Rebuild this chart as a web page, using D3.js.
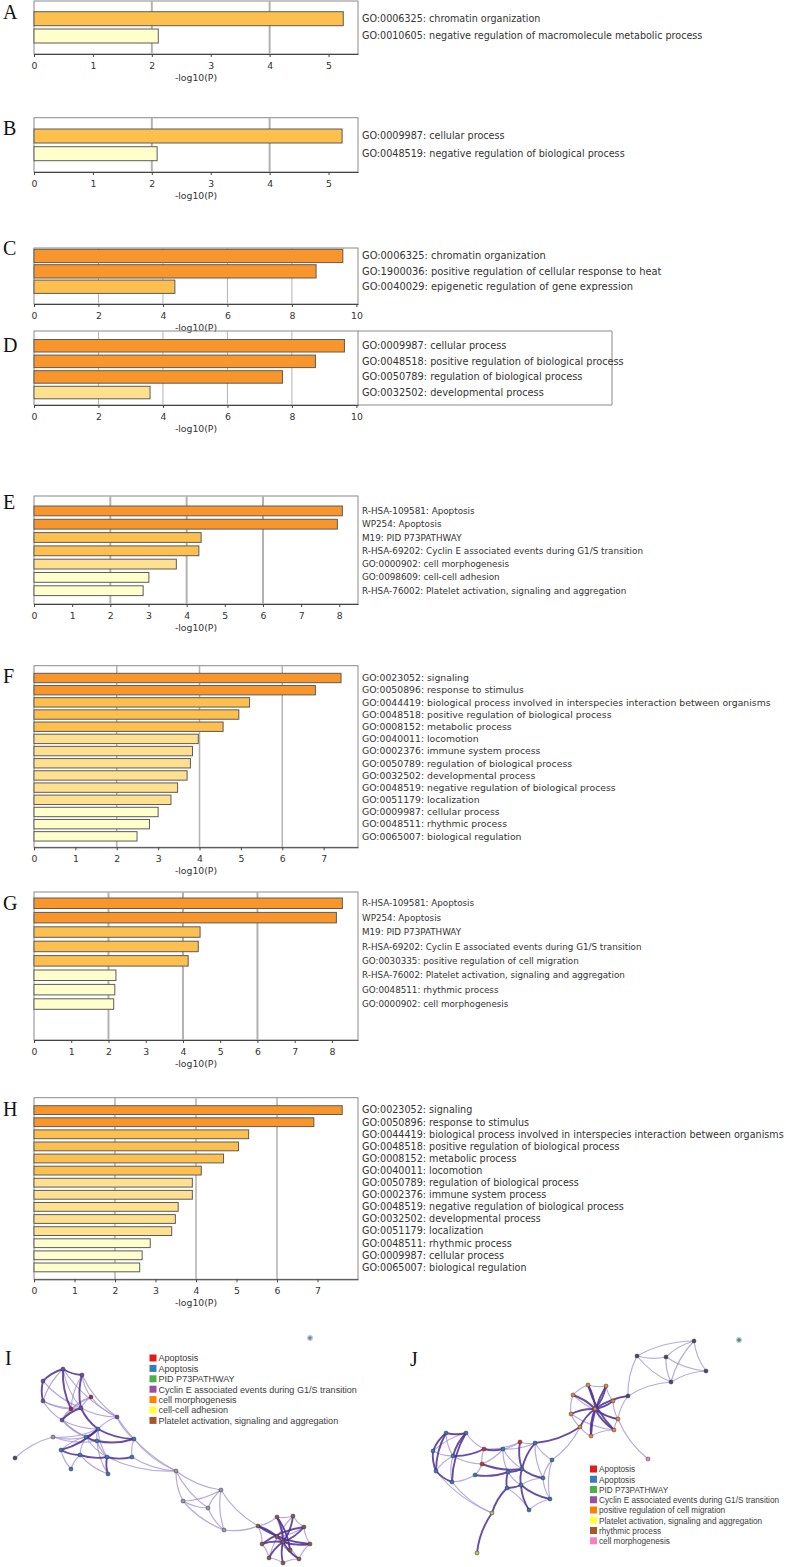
<!DOCTYPE html>
<html><head><meta charset="utf-8">
<script src="https://cdn.jsdelivr.net/npm/d3@7"></script>
<style>body{margin:0;background:#fff}svg{display:block}</style>
</head><body>
<svg id="fig" width="786" height="1567"></svg>
<script>
// ---------------- DATA ----------------
const termsA = ["GO:0006325: chromatin organization","GO:0010605: negative regulation of macromolecule metabolic process"];
const valuesA = [5.25, 2.11];
const levelsA = [1, 3];
const ticksA = [0,1,2,3,4,5];

const termsB = ["GO:0009987: cellular process","GO:0048519: negative regulation of biological process"];
const valuesB = [5.23, 2.09];
const levelsB = [1, 3];
const ticksB = [0,1,2,3,4,5];

const termsC = ["GO:0006325: chromatin organization","GO:1900036: positive regulation of cellular response to heat","GO:0040029: epigenetic regulation of gene expression"];
const valuesC = [9.58, 8.75, 4.37];
const levelsC = [0, 0, 1];
const ticksC = [0,2,4,6,8,10];

const termsD = ["GO:0009987: cellular process","GO:0048518: positive regulation of biological process","GO:0050789: regulation of biological process","GO:0032502: developmental process"];
const valuesD = [9.63, 8.73, 7.71, 3.6];
const levelsD = [0, 0, 0, 2];
const ticksD = [0,2,4,6,8,10];

const termsE = ["R-HSA-109581: Apoptosis","WP254: Apoptosis","M19: PID P73PATHWAY","R-HSA-69202: Cyclin E associated events during G1/S transition","GO:0000902: cell morphogenesis","GO:0098609: cell-cell adhesion","R-HSA-76002: Platelet activation, signaling and aggregation"];
const valuesE = [8.08, 7.95, 4.38, 4.32, 3.73, 3.01, 2.86];
const levelsE = [0,0,1,1,2,3,3];
const ticksE = [0,1,2,3,4,5,6,7,8];

const termsF = ["GO:0023052: signaling","GO:0050896: response to stimulus","GO:0044419: biological process involved in interspecies interaction between organisms","GO:0048518: positive regulation of biological process","GO:0008152: metabolic process","GO:0040011: locomotion","GO:0002376: immune system process","GO:0050789: regulation of biological process","GO:0032502: developmental process","GO:0048519: negative regulation of biological process","GO:0051179: localization","GO:0009987: cellular process","GO:0048511: rhythmic process","GO:0065007: biological regulation"];
const valuesF = [7.42, 6.80, 5.21, 4.95, 4.57, 3.97, 3.83, 3.78, 3.70, 3.47, 3.31, 3.00, 2.79, 2.49];
const levelsF = [0,0,1,1,1,2,2,2,2,2,2,3,3,3];
const ticksF = [0,1,2,3,4,5,6,7];

const termsG = ["R-HSA-109581: Apoptosis","WP254: Apoptosis","M19: PID P73PATHWAY","R-HSA-69202: Cyclin E associated events during G1/S transition","GO:0030335: positive regulation of cell migration","R-HSA-76002: Platelet activation, signaling and aggregation","GO:0048511: rhythmic process","GO:0000902: cell morphogenesis"];
const valuesG = [8.28, 8.12, 4.46, 4.41, 4.14, 2.20, 2.17, 2.14];
const levelsG = [0,0,1,1,1,3,3,3];
const ticksG = [0,1,2,3,4,5,6,7,8];

const termsH = ["GO:0023052: signaling","GO:0050896: response to stimulus","GO:0044419: biological process involved in interspecies interaction between organisms","GO:0048518: positive regulation of biological process","GO:0008152: metabolic process","GO:0040011: locomotion","GO:0050789: regulation of biological process","GO:0002376: immune system process","GO:0048519: negative regulation of biological process","GO:0032502: developmental process","GO:0051179: localization","GO:0048511: rhythmic process","GO:0009987: cellular process","GO:0065007: biological regulation"];
const valuesH = [7.61, 6.91, 5.30, 5.05, 4.68, 4.13, 3.91, 3.91, 3.56, 3.49, 3.40, 2.87, 2.67, 2.61];
const levelsH = [0,0,1,1,1,1,2,2,2,2,2,3,3,3];
const ticksH = [0,1,2,3,4,5,6,7];

// Network I: nodes [x, y, category] in panel-local units; edges [a, b, strong]
const legendI = ["Apoptosis","Apoptosis","PID P73PATHWAY","Cyclin E associated events during G1/S transition","cell morphogenesis","cell-cell adhesion","Platelet activation, signaling and aggregation"];
const legendIcats = ["red","blue","green","purple","orange","yellow","brown"];
const nodesI = [
 [63,39,"purple"],[82,45,"purple"],[43,51,"purple"],[43,71,"purple"],[91,67,"dred"],[71,79,"dred"],
 [81,78,"purple"],[117,87,"purple"],[62,90,"purple"],[53,107,"gray"],[86,107,"blue"],[98,99,"blue"],
 [97,111,"blue"],[134,109,"blue"],[61,120,"blue"],[80,125,"blue"],[107,127,"blue"],[132,127,"blue"],
 [15,128,"dark"],[71,139,"blue"],[108,144,"blue"],[176,141,"gray"],[183,171,"gray"],[221,160,"gray"],
 [208,178,"gray"],[224,200,"gray"],[258,196,"brown"],[277,187,"brown"],[293,186,"brown"],[304,197,"brown"],
 [310,214,"brown"],[299,229,"brown"],[283,233,"brown"],[269,228,"brown"],[262,214,"brown"],[283,212,"brown"],
 [277,207,"brown"],[290,220,"brown"],[310,8,"iso"]
];
const edgesI = [
 [0,1,1],[0,2,1],[0,3,0],[0,5,1],[0,6,0],[1,4,0],[1,6,1],[1,5,0],[2,3,1],[2,6,0],[3,8,0],[3,5,0],[3,6,0],
 [4,5,0],[4,6,0],[4,7,0],[4,8,0],[5,6,0],[5,8,0],[6,8,1],[6,7,0],[7,11,0],[7,13,0],[8,10,0],[8,11,0],
 [8,12,0],[6,11,1],[0,7,0],[1,7,0],
 [9,10,0],[9,11,0],[9,18,0],[10,11,1],[10,12,1],[10,14,0],[10,15,0],[11,12,0],[11,13,1],[11,16,0],[12,13,1],
 [12,16,0],[12,20,0],[13,17,0],[14,15,1],[14,19,0],[15,16,1],[15,19,0],[15,20,0],[16,17,1],[16,20,1],
 [10,16,0],[14,11,1],[9,12,0],
 [13,21,0],[17,21,0],[7,21,0],[16,21,0],
 [21,22,0],[21,23,0],[21,24,0],[22,23,0],[22,24,0],[23,24,0],[23,25,0],[24,25,0],[22,25,0],[25,26,0],[23,26,0],
 [35,27,1],[35,28,1],[35,29,1],[35,30,1],[35,31,1],[35,32,1],[35,33,1],[35,34,1],[35,26,1],
 [26,27,0],[27,28,0],[28,29,0],[29,30,0],[30,31,0],[31,32,0],[32,33,0],[33,34,0],[34,26,0],
 [27,31,0],[28,33,0],[26,30,1],[29,34,1],[36,31,0],[37,27,1],[36,29,0]
];

// Network J
const legendJ = ["Apoptosis","Apoptosis","PID P73PATHWAY","Cyclin E associated events during G1/S transition","positive regulation of cell migration","Platelet activation, signaling and aggregation","rhythmic process","cell morphogenesis"];
const legendJcats = ["red","blue","green","purple","orange","yellow","brown","pink"];
const nodesJ = [
 [294,11,"dark"],[237,26,"dark"],[266,27,"dark"],[306,41,"dark"],[271,52,"dark"],[228,66,"dark"],
 [188,55,"orange"],[206,56,"orange"],[173,65,"orange"],[213,71,"orange"],[195,79,"orange"],[171,84,"orange"],
 [218,89,"orange"],[180,97,"orange"],[214,100,"orange"],[191,106,"orange"],[248,129,"pink"],
 [46,103,"blue"],[66,103,"blue"],[33,121,"blue"],[53,126,"blue"],[36,141,"blue"],[52,152,"blue"],[75,145,"blue"],
 [84,119,"red"],[82,134,"red"],[103,119,"blue"],[120,112,"red"],[135,113,"blue"],[152,130,"blue"],
 [108,142,"blue"],[122,139,"blue"],[143,148,"blue"],[107,158,"blue"],[121,155,"blue"],[150,169,"blue"],
 [129,180,"blue"],[92,183,"ygreen"],[77,223,"ygreen"],[339,10,"isoG"]
];
const edgesJ = [
 [0,1,0],[0,2,0],[0,3,0],[0,4,0],[1,2,0],[1,4,0],[2,3,0],[2,4,0],[3,4,0],[1,5,0],[4,5,0],[5,9,0],[5,12,0],
 [10,6,1],[10,7,1],[10,8,1],[10,9,1],[10,11,1],[10,12,1],[10,13,1],[10,14,1],[10,15,1],
 [6,7,0],[6,8,0],[7,9,0],[8,11,0],[9,12,0],[11,13,0],[12,14,0],[13,15,0],[14,15,0],[5,10,1],[7,15,1],[6,14,1],
 [8,12,0],[11,14,0],[12,16,0],[28,13,1],[29,13,0],
 [17,18,1],[17,19,1],[17,20,0],[17,21,1],[18,20,1],[18,22,1],[19,20,0],[19,21,1],[20,21,0],[20,22,0],
 [21,22,1],[18,24,0],[20,24,1],[20,25,0],[22,23,0],[23,25,0],[24,25,0],[24,26,1],[24,27,0],[25,26,0],
 [23,30,1],[25,31,1],[18,19,0],
 [26,27,0],[26,28,0],[26,30,0],[26,31,0],[27,28,0],[27,31,1],[28,29,0],[28,31,1],[28,32,0],[29,32,0],
 [29,35,0],[30,31,1],[30,33,1],[30,34,0],[31,34,1],[31,32,1],[32,34,0],[33,34,1],[34,35,1],[34,36,1],
 [35,36,0],[32,35,0],[33,37,1],[37,38,1],[22,37,0],[21,37,0],[36,33,0]
];

// ---------------- STYLE ----------------
const barColors = ["#f8962c", "#fdbf4e", "#fee08f", "#ffffcc"];
const nodeColors = {red:"#e3262a", dred:"#a3263a", blue:"#3478bb", green:"#41a446", purple:"#6a4fa3",
  orange:"#f0862a", yellow:"#f2ef3a", brown:"#8c5a44", pink:"#ef83bd", gray:"#9a9aa4", dark:"#47476c",
  ygreen:"#b6c94a", iso:"#6a8aa8", isoG:"#3c9a5a"};
const legendColors = {red:"#e41a1c", blue:"#377eb8", green:"#4daf4a", purple:"#984ea3", orange:"#ff7f00",
  yellow:"#ffff33", brown:"#a65628", pink:"#f781bf"};

const svg = d3.select("#fig");
svg.append("rect").attr("width",786).attr("height",1567).attr("fill","#fff");

const panels = [
 {L:"A", ly:19, terms:termsA, values:valuesA, levels:levelsA, ticks:ticksA, xmax:5.5, top:1, base:54, barTop:11.7, step:17.3, barH:14, grid:[2,4], gw:2, fs:9.6},
 {L:"B", ly:135, terms:termsB, values:valuesB, levels:levelsB, ticks:ticksB, xmax:5.5, top:117.7, base:172, barTop:129, step:17.7, barH:14, grid:[2,4], gw:2, fs:9.65},
 {L:"C", ly:255, terms:termsC, values:valuesC, levels:levelsC, ticks:ticksC, xmax:10.05, top:248, base:304, barTop:249.3, step:15.4, barH:13.3, grid:[2,4,6,8], gw:1, fs:9.9},
 {L:"D", ly:352, terms:termsD, values:valuesD, levels:levelsD, ticks:ticksD, xmax:10.05, top:331, base:405, barTop:339.5, step:15.6, barH:12.5, grid:[2,4,6,8], gw:1, outer:612, fs:9.75},
 {L:"E", ly:509, terms:termsE, values:valuesE, levels:levelsE, ticks:ticksE, xmax:8.49, top:496, base:604, barTop:506, step:13.3, barH:9.8, grid:[2,4,6], gw:2, fs:8.8},
 {L:"F", ly:683, terms:termsF, values:valuesF, levels:levelsF, ticks:ticksF, xmax:7.83, top:665.7, base:847.3, barTop:673.3, step:12.18, barH:9.4, grid:[2,4,6], gw:1.5, fs:9.3},
 {L:"G", ly:910, terms:termsG, values:valuesG, levels:levelsG, ticks:ticksG, xmax:8.7, top:892, base:1040, barTop:898, step:14.4, barH:10.5, grid:[2,4,6], gw:2, fs:8.75},
 {L:"H", ly:1116, terms:termsH, values:valuesH, levels:levelsH, ticks:ticksH, xmax:8.0, top:1097.7, base:1279.3, barTop:1105.7, step:12.1, barH:8.8, grid:[2,4,6], gw:1.5, fs:9.6}
];

const X0 = 34, X1 = 358;
const sans = "'DejaVu Sans', sans-serif";

function drawBars(p) {
  const g = svg.append("g");
  const n = p.terms.length;
  const gap = p.step - p.barH;
  const x = d3.scaleLinear().domain([0, p.xmax]).range([X0, X1]);
  const y = d3.scaleBand().domain(d3.range(n))
    .range([p.barTop - gap/2, p.barTop - gap/2 + n*p.step])
    .paddingInner(gap/p.step).paddingOuter(gap/p.step/2);

  g.append("rect").attr("x", X0).attr("y", p.top).attr("width", X1 - X0).attr("height", p.base - p.top)
    .attr("fill", "none").attr("stroke", "#8a8a8a").attr("stroke-width", 1);
  if (p.outer) {
    g.append("path").attr("d", `M${X1},${p.top}H${p.outer}V${p.base}H${X1}`)
      .attr("fill","none").attr("stroke","#8a8a8a").attr("stroke-width",1);
  }
  g.selectAll("line.grid").data(p.grid).join("line").attr("class","grid")
    .attr("x1", d => x(d)).attr("x2", d => x(d)).attr("y1", p.top).attr("y2", p.base)
    .attr("stroke", "#b2b2b2").attr("stroke-width", p.gw);
  g.selectAll("rect.bar").data(p.values).join("rect").attr("class","bar")
    .attr("x", x(0)).attr("y", (d,i) => y(i)).attr("width", d => x(d) - x(0)).attr("height", y.bandwidth())
    .attr("fill", (d,i) => barColors[p.levels[i]]).attr("stroke", "#5c5c5c").attr("stroke-width", 1);
  const ax = g.append("g").attr("transform", `translate(0,${p.base})`)
    .call(d3.axisBottom(x).tickValues(p.ticks).tickSize(3).tickSizeOuter(0).tickFormat(d3.format("d")));
  ax.select(".domain").attr("stroke", "#444");
  ax.selectAll(".tick line").attr("stroke", "#444");
  ax.selectAll(".tick text").attr("fill", "#333").attr("font-family", sans).attr("font-size", 9.3).attr("dy", "0.95em");
  g.append("text").attr("x", (X0 + X1)/2).attr("y", p.base + 27).attr("text-anchor","middle")
    .attr("font-family", sans).attr("font-size", 9.3).attr("fill", "#333").text("-log10(P)");
  g.selectAll("text.term").data(p.terms).join("text").attr("class","term")
    .attr("x", X1 + 4).attr("y", (d,i) => y(i) + y.bandwidth()/2).attr("dy","0.35em")
    .attr("font-family", sans).attr("font-size", p.fs).attr("fill", "#333").text(d => d);
  svg.append("text").attr("x", 3).attr("y", p.ly).attr("font-family","'Liberation Serif', 'Times New Roman', serif")
    .attr("font-size", 20).attr("fill", "#111").text(p.L);
}
panels.forEach(drawBars);

function drawNetwork(cfg) {
  const g = svg.append("g");
  const sx = d3.scaleLinear().domain([0, 100]).range([cfg.ox, cfg.ox + 100]);
  const sy = d3.scaleLinear().domain([0, 100]).range([cfg.oy, cfg.oy + 100]);
  const curve = (a, b) => {
    const x1 = sx(a[0]), y1 = sy(a[1]), x2 = sx(b[0]), y2 = sy(b[1]);
    const mx = (x1+x2)/2, my = (y1+y2)/2, dx = x2-x1, dy = y2-y1;
    const k = 0.13;
    const p = d3.path(); p.moveTo(x1,y1); p.quadraticCurveTo(mx - dy*k, my + dx*k, x2, y2);
    return p.toString();
  };
  const weak = cfg.edges.filter(e => !e[2]), strong = cfg.edges.filter(e => e[2]);
  g.selectAll("path.weak").data(weak).join("path").attr("class","weak")
    .attr("d", e => curve(cfg.nodes[e[0]], cfg.nodes[e[1]]))
    .attr("fill","none").attr("stroke", "#9f8fd0").attr("stroke-opacity", 0.75).attr("stroke-width", 1.2);
  g.selectAll("path.strong").data(strong).join("path").attr("class","strong")
    .attr("d", e => curve(cfg.nodes[e[0]], cfg.nodes[e[1]]))
    .attr("fill","none").attr("stroke", "#4e2e94").attr("stroke-opacity", 0.85).attr("stroke-width", 1.9);
  g.selectAll("circle").data(cfg.nodes).join("circle")
    .attr("cx", d => sx(d[0])).attr("cy", d => sy(d[1]))
    .attr("r", d => d[2].startsWith("iso") ? 2.4 : 2)
    .attr("fill", d => nodeColors[d[2]])
    .attr("stroke", d => d[2].startsWith("iso") ? "#c8cbe0" : "#333").attr("stroke-width", d => d[2].startsWith("iso") ? 1.2 : 0.5);
  const lg = g.append("g");
  const ly = d3.scaleBand().domain(d3.range(cfg.legend.length)).range([cfg.lgy, cfg.lgy + cfg.legend.length*cfg.lstep]);
  cfg.legend.forEach((t, i) => {
    lg.append("rect").attr("x", cfg.lgx).attr("y", ly(i) + 1).attr("width", 7).attr("height", 7)
      .attr("fill", legendColors[cfg.cats[i]]);
    lg.append("text").attr("transform", `translate(${cfg.lgx + 9},${ly(i) + 4.6}) scale(${cfg.lsx},1)`)
      .attr("dy","0.35em")
      .attr("font-family","'Liberation Sans', Arial, sans-serif").attr("font-size", 9.4)
      .attr("fill","#3c3c3c").text(t);
  });
  svg.append("text").attr("x", cfg.lx).attr("y", cfg.lyL).attr("font-family","'Liberation Serif', 'Times New Roman', serif")
    .attr("font-size", 20).attr("fill", "#111").text(cfg.L);
}

drawNetwork({L:"I", lx:5, lyL:1365, ox:0, oy:1330, nodes:nodesI, edges:edgesI, legend:legendI, cats:legendIcats, lgx:149.5, lgy:1353.5, lstep:10.4, lsx:0.965});
drawNetwork({L:"J", lx:410, lyL:1366, ox:400, oy:1330, nodes:nodesJ, edges:edgesJ, legend:legendJ, cats:legendJcats, lgx:590, lgy:1464.5, lstep:10.25, lsx:0.875});
</script>
</body></html>
